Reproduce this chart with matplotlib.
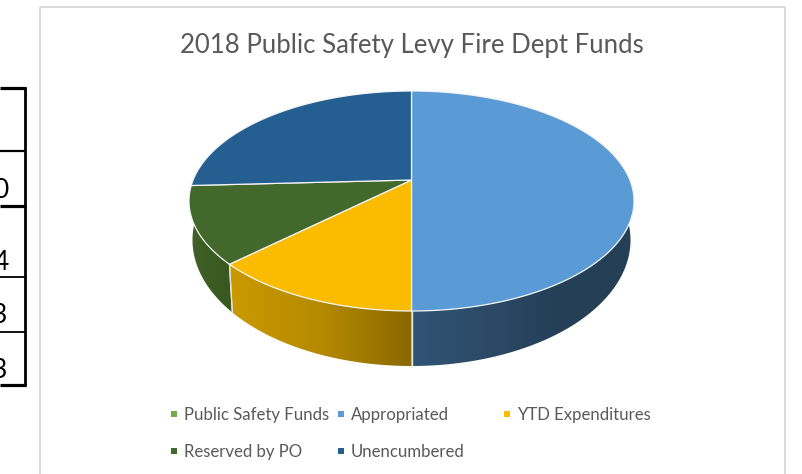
import numpy as np
import matplotlib
matplotlib.use("Agg")
import matplotlib.pyplot as plt
from matplotlib.colors import LinearSegmentedColormap
from matplotlib.patches import Polygon

plt.rcParams["font.family"] = ["Lato", "DejaVu Sans"]

# data
categories = ["Public Safety Funds", "Appropriated", "YTD Expenditures", "Reserved by PO", "Unencumbered"]
values = [0.0, 50.0, 15.25, 12.0, 22.75]
colors = ["#70AD47", "#5B9BD5", "#FBBC00", "#43682B", "#255E91"]
table_digits = ["0", "4", "3", "3"]

# side wall shading per slice, left to right
side_shades = {
    "Appropriated": ["#305474", "#2c4a68", "#243F56", "#243F56"],
    "YTD Expenditures": ["#CB9A00", "#B58A00", "#8A6800"],
    "Reserved by PO": ["#3F6127", "#38571F"],
}

# pie geometry in pixels (perspective: apex sits above the ellipse centre)
CX, APEX_Y = 411.5, 180
TOP_CY, TOP_RX, TOP_RY = 201, 222.5, 110
BOT_CY, BOT_RX, BOT_RY = 240, 219, 126

fig = plt.figure(figsize=(8.02, 4.74), dpi=100)
ax = fig.add_axes([0, 0, 1, 1])


def top_arc(t):
    return np.column_stack([CX + TOP_RX * np.sin(t), TOP_CY - TOP_RY * np.cos(t)])


def bot_arc(t):
    return np.column_stack([CX + BOT_RX * np.sin(t), BOT_CY - BOT_RY * np.cos(t)])


# chart frame
ax.plot([40, 40], [474, 6.5], color="#D9D9D9", lw=1.4, solid_capstyle="butt")
ax.plot([40, 784.5], [6.5, 6.5], color="#D9D9D9", lw=1.4, solid_capstyle="butt")
ax.plot([784.5, 784.5], [6.5, 474], color="#D9D9D9", lw=1.4, solid_capstyle="butt")

# bit of the neighbouring table, cut off by the left edge
for y, lw in [(88, 2.3), (151, 1.6), (206, 2.3), (276.5, 1.3), (331.5, 1.3), (385, 2.3)]:
    ax.plot([0, 26], [y, y], color="black", lw=lw, solid_capstyle="butt")
ax.plot([25, 25], [87, 386], color="black", lw=2.0, solid_capstyle="butt")
for digit, y, right in zip(table_digits, [198, 270, 323, 378], [9, 9, 7, 7]):
    ax.text(right, y, digit, fontsize=19, color="black", ha="right", va="baseline")

# side walls first, the top face covers their upper edge
edges = np.cumsum([0] + values) / sum(values) * 2 * np.pi
for name, a, b in zip(categories, edges[:-1], edges[1:]):
    if name not in side_shades:
        continue
    t = np.linspace(a, b, 200)
    pts = np.vstack([top_arc(t), bot_arc(t)[::-1]])
    poly = Polygon(pts, closed=True, fc="none", ec="none", transform=ax.transData)
    ax.add_patch(poly)
    x0, x1 = pts[:, 0].min(), pts[:, 0].max()
    cmap = LinearSegmentedColormap.from_list(name, side_shades[name])
    im = ax.imshow(np.linspace(0, 1, 256)[None, :], extent=[x0, x1, 370, 190], cmap=cmap,
                   aspect="auto", interpolation="bilinear", zorder=1)
    im.set_clip_path(poly)
    for tt in (a, b):
        if np.sin(tt) < 0.99 and abs(np.sin(tt) + 1) > 0.01 and np.cos(tt) < 0:
            p = top_arc(np.array([tt]))[0]
            q = bot_arc(np.array([tt]))[0]
            ax.plot([p[0], q[0]], [p[1], q[1]], color="#E4E4E4", lw=0.9, zorder=2)

# top face
for name, col, a, b in zip(categories, colors, edges[:-1], edges[1:]):
    if b - a <= 0:
        continue
    t = np.linspace(a, b, 300)
    pts = np.vstack([[CX, APEX_Y], top_arc(t)])
    ax.add_patch(Polygon(pts, closed=True, fc=col, ec="#F2F5F8", lw=0.9, joinstyle="round", zorder=3))

ax.text(412, 53, "2018 Public Safety Levy Fire Dept Funds", fontsize=18.5, color="#595959",
        ha="center", va="baseline")

# legend, laid out like the original in two rows
legend_x = [171, 338, 504, 171, 338]
legend_y = [414, 414, 414, 451, 451]
for name, col, x, y in zip(categories, colors, legend_x, legend_y):
    ax.scatter([x + 2.5], [y], marker="s", s=18, color=col, linewidths=0)
    ax.text(x + 13, y + 6, name, fontsize=12.1, color="#595959", ha="left", va="baseline")

ax.set_xlim(0, 802)
ax.set_ylim(474, 0)
ax.axis("off")
fig.savefig("out.png", dpi=100)
plt.close(fig)
